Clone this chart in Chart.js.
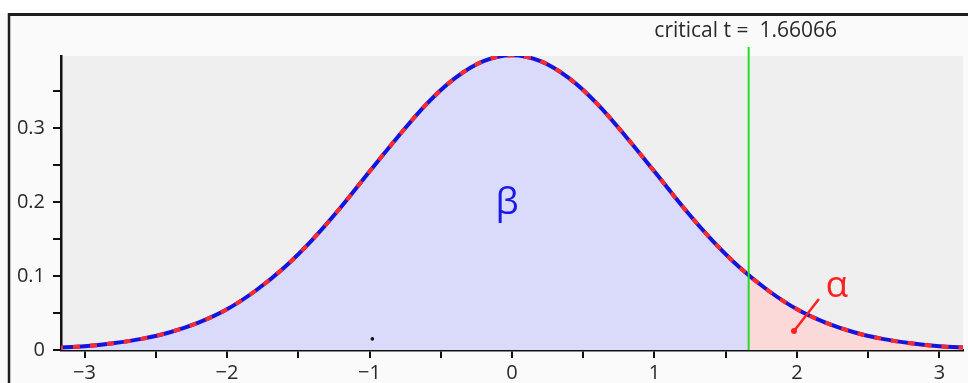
<!DOCTYPE html>
<html>
<head>
<meta charset="utf-8">
<title>critical t</title>
<script src="https://cdn.jsdelivr.net/npm/chart.js@4.4.0/dist/chart.umd.min.js"></script>
<style>
  html, body { margin: 0; padding: 0; background: #fff; }
  #wrap { width: 968px; height: 383px; }
</style>
</head>
<body>
<div id="wrap"><canvas id="tChart" width="968" height="383"></canvas></div>
<script>
// t density, read every 0.2
const tValues = [-3.2, -3.0, -2.8, -2.6, -2.4, -2.2, -2.0, -1.8, -1.6, -1.4, -1.2, -1.0, -0.8, -0.6, -0.4, -0.2,
                 0, 0.2, 0.4, 0.6, 0.8, 1.0, 1.2, 1.4, 1.6, 1.8, 2.0, 2.2, 2.4, 2.6, 2.8, 3.0, 3.2];
const density = [0.003, 0.005, 0.009, 0.015, 0.024, 0.037, 0.055, 0.080, 0.111, 0.149, 0.193, 0.241, 0.288, 0.332, 0.367, 0.390,
                 0.398, 0.390, 0.367, 0.332, 0.288, 0.241, 0.193, 0.149, 0.111, 0.080, 0.055, 0.037, 0.024, 0.015, 0.009, 0.005, 0.003];

const critT = 1.66066;
const critDensity = 0.101;

const xTickValues = [-3, -2.5, -2, -1.5, -1, -0.5, 0, 0.5, 1, 1.5, 2, 2.5, 3];
const yTickValues = [0, 0.05, 0.1, 0.15, 0.2, 0.25, 0.3, 0.35];

// stray dot near the axis
const strayDot = [{ x: -0.98, y: 0.015 }];

const points = () => tValues.map((t, i) => ({ x: t, y: density[i] }));
const betaArea = points().filter(p => p.x < critT).concat([{ x: critT, y: critDensity }]);
const alphaArea = [{ x: critT, y: critDensity }].concat(points().filter(p => p.x > critT));

const labelFont = { family: 'Open Sans', size: 20 };

// page frame, grey plot area, critical line and greek labels
const decor = {
    id: 'decor',
    beforeDraw(chart) {
        const c = chart.ctx;
        const a = chart.chartArea;
        c.save();
        c.fillStyle = '#fafafa';
        c.fillRect(0, 0, chart.width, chart.height);
        c.fillStyle = '#ffffff';
        c.fillRect(0, 0, chart.width, 13);
        c.fillStyle = '#efefef';
        c.fillRect(a.left, a.top, a.right - a.left, a.bottom - a.top);
        c.strokeStyle = '#1e1e1e';
        c.lineWidth = 3;
        c.beginPath();
        c.moveTo(8, 14.5);
        c.lineTo(chart.width, 14.5);
        c.stroke();
        c.lineWidth = 2.5;
        c.beginPath();
        c.moveTo(9, 13);
        c.lineTo(9, chart.height);
        c.stroke();
        c.restore();
    },
    afterDatasetsDraw(chart) {
        const c = chart.ctx;
        const a = chart.chartArea;
        const xs = chart.scales.x;
        const ys = chart.scales.y;
        const gx = xs.getPixelForValue(critT);
        c.save();
        c.strokeStyle = '#22dd22';
        c.lineWidth = 2;
        c.beginPath();
        c.moveTo(gx, a.top - 9);
        c.lineTo(gx, a.bottom);
        c.stroke();

        c.fillStyle = '#2a2a2a';
        c.font = '21px "Open Sans"';
        c.textAlign = 'center';
        c.textBaseline = 'alphabetic';
        c.fillText('critical t =  ' + critT.toFixed(5), gx - 3, 37);

        c.font = '37px "Open Sans"';
        c.fillStyle = '#1a1ae6';
        c.fillText('\u03b2', xs.getPixelForValue(-0.035), ys.getPixelForValue(0.184));

        c.fillStyle = '#ff2020';
        c.textAlign = 'left';
        c.fillText('\u03b1', xs.getPixelForValue(2.2), ys.getPixelForValue(0.0716));

        // pointer into the tail
        const px0 = xs.getPixelForValue(1.979), py0 = ys.getPixelForValue(0.0257);
        const px1 = xs.getPixelForValue(2.154), py1 = ys.getPixelForValue(0.069);
        c.strokeStyle = '#ff2020';
        c.lineWidth = 2.5;
        c.beginPath();
        c.moveTo(px0, py0);
        c.lineTo(px1, py1);
        c.stroke();
        c.beginPath();
        c.arc(px0, py0, 3, 0, Math.PI * 2);
        c.fill();
        c.restore();
    }
};

const ctx = document.getElementById('tChart').getContext('2d');
new Chart(ctx, {
    type: 'line',
    data: {
        datasets: [
            {
                type: 'scatter',
                data: strayDot,
                pointRadius: 1.8,
                pointBackgroundColor: '#111',
                pointBorderWidth: 0
            },
            {
                // red dashes laid over the blue curve
                data: points(),
                borderColor: '#ff2a2a',
                borderWidth: 4,
                borderDash: [7, 10],
                borderCapStyle: 'butt',
                pointRadius: 0,
                fill: false,
                cubicInterpolationMode: 'monotone'
            },
            {
                data: points(),
                borderColor: '#1414dc',
                borderWidth: 4,
                pointRadius: 0,
                fill: false,
                cubicInterpolationMode: 'monotone'
            },
            {
                data: alphaArea,
                borderWidth: 0,
                borderColor: 'transparent',
                backgroundColor: '#fcd9d9',
                pointRadius: 0,
                fill: 'origin',
                cubicInterpolationMode: 'monotone'
            },
            {
                data: betaArea,
                borderWidth: 0,
                borderColor: 'transparent',
                backgroundColor: '#dadafb',
                pointRadius: 0,
                fill: 'origin',
                cubicInterpolationMode: 'monotone'
            }
        ]
    },
    options: {
        responsive: false,
        devicePixelRatio: 1,
        animation: false,
        layout: { padding: { top: 56, right: 5, left: 0, bottom: 0 } },
        plugins: { legend: { display: false }, tooltip: { enabled: false } },
        scales: {
            x: {
                type: 'linear',
                min: -3.165,
                max: 3.165,
                afterBuildTicks(scale) {
                    scale.ticks = xTickValues.map(v => ({ value: v }));
                },
                afterFit(scale) { scale.height = 33; },
                grid: { drawOnChartArea: false, tickLength: 8, color: '#111', lineWidth: 2 },
                border: { display: true, color: '#111', width: 2.5 },
                ticks: {
                    padding: 3,
                    maxRotation: 0,
                    autoSkip: false,
                    color: '#2a2a2a',
                    font: labelFont,
                    callback: v => Number.isInteger(v) ? String(v).replace('-', '\u2212') : ''
                }
            },
            y: {
                type: 'linear',
                min: 0,
                max: 0.397,
                afterBuildTicks(scale) {
                    scale.ticks = yTickValues.map(v => ({ value: v }));
                },
                afterFit(scale) { scale.width = 61; },
                grid: { drawOnChartArea: false, tickLength: 8, color: '#111', lineWidth: 2 },
                border: { display: true, color: '#111', width: 2.5 },
                ticks: {
                    padding: 8,
                    autoSkip: false,
                    color: '#2a2a2a',
                    font: labelFont,
                    callback: v => (Math.round(v * 100) % 10 === 0) ? String(Math.round(v * 10) / 10) : ''
                }
            }
        }
    },
    plugins: [decor]
});
</script>
</body>
</html>
